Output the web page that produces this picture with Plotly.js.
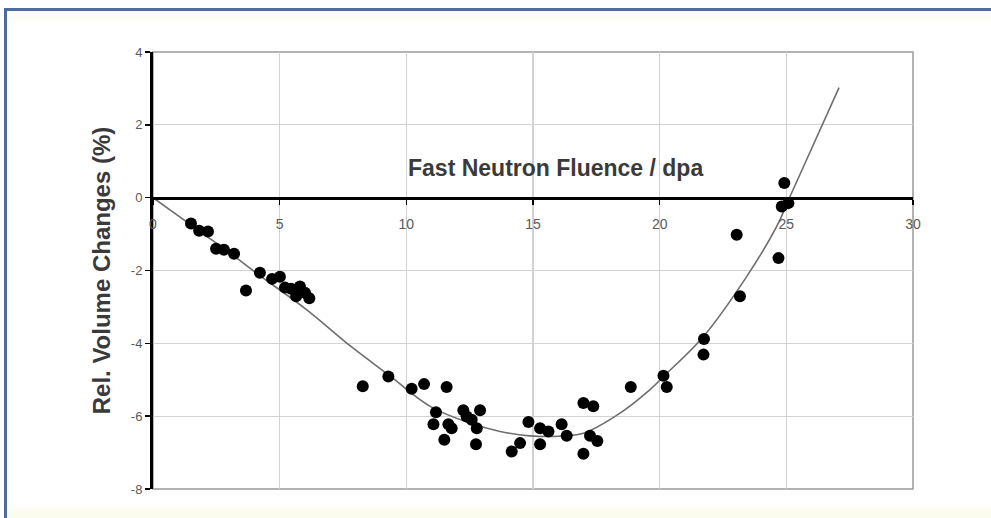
<!DOCTYPE html>
<html>
<head>
<meta charset="utf-8">
<script src="https://cdn.plot.ly/plotly-3.0.1.min.js"></script>
<style>
  html, body { margin: 0; padding: 0; background: #ffffff; }
  #wrap { position: relative; width: 991px; height: 518px; overflow: hidden; background: #ffffff; }
  #frame { position: absolute; left: 4px; top: 8px; width: 1000px; height: 520px;
           border-left: 3px solid #4f6d9c; border-top: 3px solid #4f6d9c;
           background: linear-gradient(to bottom, #fbfbef 0px, #ffffff 14px, #ffffff 492px, #fbfbee 502px); }
  #chart { position: absolute; left: 0; top: 0; width: 991px; height: 518px; }
</style>
</head>
<body>
<div id="wrap">
  <div id="frame"></div>
  <div id="chart"></div>
</div>
<script>
// Measured points (fluence in dpa, relative volume change in %)
const fluence = [1.50, 1.82, 2.17, 2.49, 2.80, 3.20, 3.67, 4.22, 4.70, 5.01, 5.21, 5.45, 5.65, 5.80, 6.00, 6.17,
                 8.28, 9.29, 10.21, 10.70, 11.59, 11.17, 11.07, 11.66, 11.79, 11.50, 12.25, 12.38, 12.58, 12.91, 12.78, 12.75,
                 14.82, 15.28, 15.61, 16.13, 16.33, 15.28, 14.49, 14.16, 16.99, 17.38, 17.25, 17.54, 16.99,
                 18.86, 20.15, 20.28, 21.75, 21.73, 23.04, 23.17, 24.69, 24.92, 24.82, 25.08];
const volumeChange = [-0.71, -0.91, -0.93, -1.40, -1.43, -1.54, -2.55, -2.06, -2.23, -2.17, -2.47, -2.50, -2.71, -2.44, -2.61, -2.76,
                      -5.18, -4.91, -5.25, -5.12, -5.20, -5.89, -6.22, -6.22, -6.33, -6.65, -5.84, -6.01, -6.10, -5.84, -6.33, -6.77,
                      -6.16, -6.33, -6.42, -6.22, -6.54, -6.77, -6.74, -6.97, -5.64, -5.73, -6.54, -6.68, -7.03,
                      -5.20, -4.89, -5.20, -3.88, -4.31, -1.02, -2.71, -1.66, 0.40, -0.24, -0.15];

// Fitted trend curve
const fitFluence = [0, 1, 2, 3, 4.22, 6.07, 7.84, 9.29, 10.94, 12.51, 13.7, 14.88, 16.0, 16.99, 18.3, 19.62, 20.15, 21.73, 23.44, 24.62, 25.15, 25.8, 27.08];
const fitVolume  = [0, -0.5, -1.0, -1.5, -2.14, -3.08, -4.1, -4.86, -5.73, -6.19, -6.42, -6.54, -6.55, -6.47, -5.98, -5.27, -4.91, -3.81, -2.16, -0.79, 0.04, 1.04, 3.02];

const xTicks = [0, 5, 10, 15, 20, 25, 30];
const yTicks = [-8, -6, -4, -2, 0, 2, 4];
const xTitle = 'Fast Neutron Fluence / dpa';
const yTitle = 'Rel. Volume Changes (%)';

const traces = [
  { x: fitFluence, y: fitVolume, type: 'scatter', mode: 'lines',
    line: { color: '#6e6e6e', width: 1.6, shape: 'spline', smoothing: 1 }, hoverinfo: 'skip' },
  { x: fluence, y: volumeChange, type: 'scatter', mode: 'markers',
    marker: { color: '#000000', size: 12, line: { width: 0 } } }
];

const layout = {
  width: 991, height: 518,
  margin: { l: 153, r: 78, t: 52, b: 29 },
  paper_bgcolor: 'rgba(0,0,0,0)',
  plot_bgcolor: '#ffffff',
  showlegend: false,
  font: { family: 'Liberation Sans, Arial, sans-serif', color: '#555555', size: 13 },
  xaxis: {
    range: [0, 30], tickvals: xTicks, ticktext: xTicks.map(String),
    anchor: 'free', position: 8 / 12,
    showline: true, linecolor: '#000000', linewidth: 3,
    ticks: 'outside', ticklen: 5, tickwidth: 1.5, tickcolor: '#000000',
    ticklabelstandoff: 8,
    showgrid: true, gridcolor: '#d2d2d2', gridwidth: 1.2,
    zeroline: false,
    tickfont: { size: 14, color: '#5a5a5a' }
  },
  yaxis: {
    range: [-8, 4], tickvals: yTicks, ticktext: yTicks.map(String),
    showline: true, linecolor: '#000000', linewidth: 3,
    ticks: 'outside', ticklen: 5, tickwidth: 1.5, tickcolor: '#000000',
    showgrid: true, gridcolor: '#d2d2d2', gridwidth: 1.2,
    zeroline: false,
    tickfont: { size: 13, color: '#5a5a5a' },
    title: { text: '<b>' + yTitle + '</b>', font: { size: 24, color: '#3a3a3a' }, standoff: 14 }
  },
  shapes: [
    { type: 'rect', xref: 'paper', yref: 'paper', x0: 0, x1: 1, y0: 0, y1: 1,
      line: { color: '#9a9a9a', width: 1.5 }, layer: 'below' }
  ],
  annotations: [
    { x: 15.9, y: 0.82, xref: 'x', yref: 'y', text: '<b>' + xTitle + '</b>', showarrow: false,
      font: { size: 23, color: '#3a3a3a' } }
  ]
};

Plotly.newPlot('chart', traces, layout, { displayModeBar: false, staticPlot: true });
</script>
</body>
</html>
